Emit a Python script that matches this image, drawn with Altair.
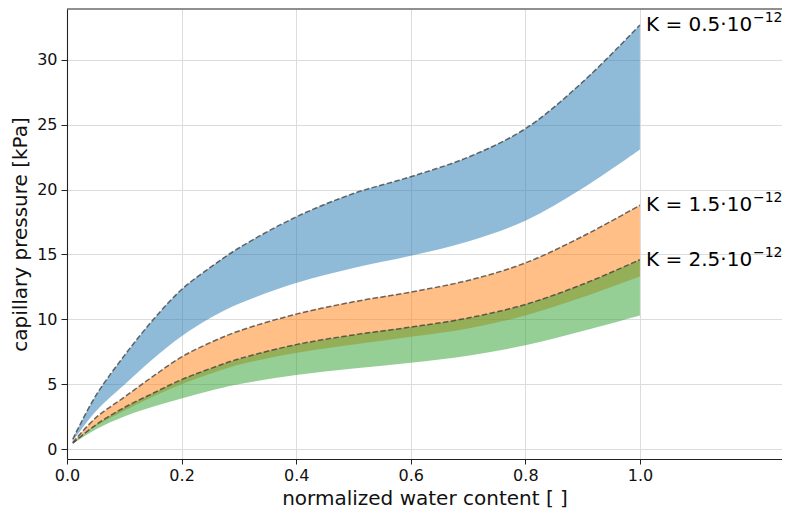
import altair as alt
import pandas as pd

# normalized water content
x_vals = [0.01, 0.05, 0.1, 0.15, 0.2, 0.25, 0.3, 0.4, 0.5, 0.6, 0.7, 0.8, 0.9, 1.0]

# capillary pressure bands [kPa]
blue_hi = [0.75, 4.1, 7.2, 9.95, 12.3, 14.0, 15.5, 17.9, 19.7, 21.0, 22.5, 24.7, 28.3, 32.7]
blue_lo = [0.6, 2.9, 4.95, 6.95, 8.7, 10.1, 11.2, 12.8, 13.95, 14.9, 16.0, 17.6, 20.1, 23.1]
orng_hi = [0.5, 2.4, 4.0, 5.6, 7.1, 8.2, 9.1, 10.4, 11.35, 12.1, 13.0, 14.35, 16.4, 18.8]
orng_lo = [0.42, 1.75, 2.95, 4.05, 5.0, 5.8, 6.5, 7.4, 8.05, 8.65, 9.3, 10.3, 11.7, 13.3]
green_hi = [0.45, 1.85, 3.2, 4.3, 5.35, 6.2, 6.95, 8.05, 8.8, 9.4, 10.1, 11.15, 12.7, 14.6]
green_lo = [0.38, 1.5, 2.5, 3.25, 3.9, 4.5, 5.0, 5.7, 6.2, 6.65, 7.2, 8.0, 9.1, 10.3]

label_main = ["K = 0.5·10", "K = 1.5·10", "K = 2.5·10"]
label_exp = ["−12", "−12", "−12"]
colors = ["#1f77b4", "#ff7f0e", "#2ca02c"]

x_ticks = [0.0, 0.2, 0.4, 0.6, 0.8, 1.0]
y_ticks = [0, 5, 10, 15, 20, 25, 30]

bands = [(blue_lo, blue_hi), (orng_lo, orng_hi), (green_lo, green_hi)]

rows = []
for k, (lo, hi) in enumerate(bands):
    for xv, l, h in zip(x_vals, lo, hi):
        rows.append({"x": xv, "lo": l, "hi": h, "k": k})
df = pd.DataFrame(rows)

lab_df = pd.DataFrame({
    "x": [x_vals[-1]] * 3,
    "hi": [blue_hi[-1], orng_hi[-1], green_hi[-1]],
    "main": label_main,
    "exp": label_exp,
})

FONT = "DejaVu Sans"
PLOT_W = 715
PLOT_H = 450
INTERP = "catmull-rom"

x_enc = alt.X(
    "x:Q",
    scale=alt.Scale(domain=[0, 1.248], nice=False, zero=False),
    axis=alt.Axis(
        values=x_ticks, format=".1f", title="normalized water content [ ]",
        labelFontSize=16, titleFontSize=20, labelFont=FONT, titleFont=FONT,
        titleFontWeight="normal", labelColor="#111", titleColor="#111",
        tickSize=5, labelPadding=3, titlePadding=5, labelFlush=False,
        grid=True, gridColor="#dcdcdc", gridWidth=1,
        domainColor="#222", tickColor="#222", domainWidth=1.1,
    ),
)
y_enc = alt.Y(
    "hi:Q",
    scale=alt.Scale(domain=[-0.77, 33.93], nice=False, zero=False),
    axis=alt.Axis(
        values=y_ticks, format="d", title="capillary pressure [kPa]",
        labelFontSize=16, titleFontSize=20, labelFont=FONT, titleFont=FONT,
        titleFontWeight="normal", labelColor="#111", titleColor="#111",
        tickSize=6, labelPadding=4, titlePadding=6, labelFlush=False,
        grid=True, gridColor="#dcdcdc", gridWidth=1,
        domainColor="#222", tickColor="#222", domainWidth=1.1,
    ),
)

base = alt.Chart(df)

layers = []
for k, c in enumerate(colors):
    layers.append(
        base.transform_filter(alt.datum.k == k)
        .mark_area(color=c, opacity=0.5, interpolate=INTERP)
        .encode(x=x_enc, y=y_enc, y2="lo:Q")
    )

lines = base.mark_line(
    color="#3a3a3a", opacity=0.75, strokeWidth=1.5,
    strokeDash=[5.5, 2.4], interpolate=INTERP,
).encode(x=x_enc, y=y_enc, detail="k:N")

texts_main = alt.Chart(lab_df).mark_text(
    align="left", baseline="alphabetic", dx=6, dy=6,
    fontSize=20, font=FONT, color="black",
).encode(x=x_enc, y=y_enc, text="main:N")

texts_exp = alt.Chart(lab_df).mark_text(
    align="left", baseline="alphabetic", dx=113, dy=-3,
    fontSize=14, font=FONT, color="black",
).encode(x=x_enc, y=y_enc, text="exp:N")

top_rule = alt.Chart(pd.DataFrame({"a": [0]})).mark_rule(
    color="#222", strokeWidth=1.1
).encode(x=alt.value(0), x2=alt.value(PLOT_W), y=alt.value(0))

chart = alt.layer(*layers, lines, texts_main, texts_exp, top_rule).properties(
    width=PLOT_W,
    height=PLOT_H,
    autosize=alt.AutoSizeParams(type="none"),
    padding={"left": 59, "top": 1, "right": 0, "bottom": 53},
).configure_view(stroke=None)

chart.save("out.html", embed_options={"renderer": "svg", "actions": False})
